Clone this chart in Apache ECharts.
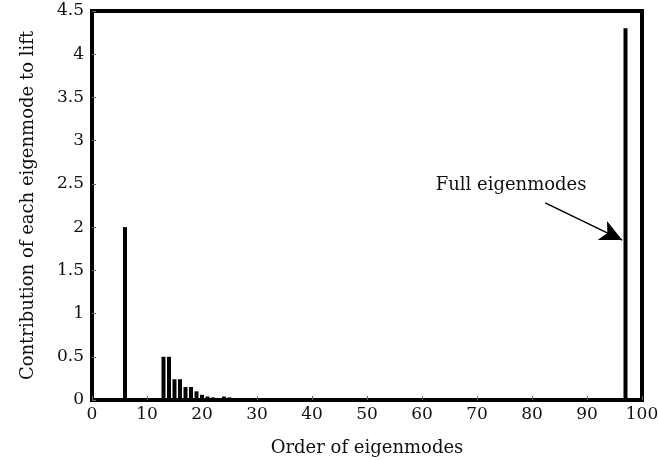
<!DOCTYPE html>
<html>
<head>
<meta charset="utf-8">
<script src="https://cdn.jsdelivr.net/npm/echarts@6/dist/echarts.min.js"></script>
<style>
  html, body { margin: 0; padding: 0; background: #fff; }
  #chart { width: 658px; height: 460px; }
</style>
</head>
<body>
<div id="chart"></div>
<script>
// order of each eigenmode and its contribution to lift
var modes = [6, 13, 14, 15, 16, 17, 18, 19, 20, 21, 22, 23, 24, 25, 26, 27, 28, 97];
var contributions = [2.0, 0.50, 0.50, 0.24, 0.24, 0.15, 0.15, 0.10, 0.06, 0.04, 0.03, 0.02, 0.04, 0.03, 0.02, 0.02, 0.01, 4.30];

// arrow "Full eigenmodes" (data coords)
var arrowFrom = [82.4, 2.28];
var arrowTo = [96.4, 1.85];
var labelAt = [76.2, 2.48];

var fontFam = '"DejaVu Serif", "Liberation Serif", serif';

var barData = [];
for (var i = 0; i < modes.length; i++) {
    barData.push([modes[i], contributions[i]]);
}

var chart = echarts.init(document.getElementById('chart'));
var option = {
    animation: false,
    backgroundColor: '#fff',
    grid: {
        left: 92,
        right: 16,
        top: 11,
        bottom: 60,
        containLabel: false,
        outerBoundsMode: 'none',
        show: true,
        borderColor: '#000',
        borderWidth: 4
    },
    xAxis: {
        type: 'value',
        min: 0,
        max: 100,
        interval: 10,
        name: 'Order of eigenmodes',
        nameLocation: 'middle',
        nameGap: 39,
        nameTextStyle: { fontFamily: fontFam, fontSize: 18, color: '#111' },
        axisLine: { show: false },
        axisTick: { show: true, inside: true, length: 4, lineStyle: { color: '#666', width: 1 } },
        axisLabel: { fontFamily: fontFam, fontSize: 17, color: '#111', margin: 6 },
        splitLine: { show: false }
    },
    yAxis: {
        type: 'value',
        min: 0,
        max: 4.5,
        interval: 0.5,
        name: 'Contribution of each eigenmode to lift',
        nameLocation: 'middle',
        nameGap: 55,
        nameTextStyle: { fontFamily: fontFam, fontSize: 18, color: '#111' },
        axisLine: { show: false },
        axisTick: { show: true, inside: true, length: 4, lineStyle: { color: '#666', width: 1 } },
        axisLabel: { fontFamily: fontFam, fontSize: 17, color: '#111', margin: 8 },
        splitLine: { show: false }
    },
    series: [{
        type: 'bar',
        data: barData,
        barWidth: 4,
        itemStyle: { color: '#000' },
        markLine: {
            silent: true,
            symbol: ['none', 'arrow'],
            symbolSize: [16, 22],
            lineStyle: { color: '#000', width: 1.5, type: 'solid' },
            label: { show: false },
            data: [[{ coord: arrowFrom }, { coord: arrowTo }]]
        },
        markPoint: {
            silent: true,
            symbol: 'circle',
            symbolSize: 0,
            label: {
                show: true,
                position: 'inside',
                formatter: 'Full eigenmodes',
                fontFamily: fontFam,
                fontSize: 18,
                color: '#111'
            },
            data: [{ coord: labelAt }]
        }
    }]
};
chart.setOption(option);
</script>
</body>
</html>
